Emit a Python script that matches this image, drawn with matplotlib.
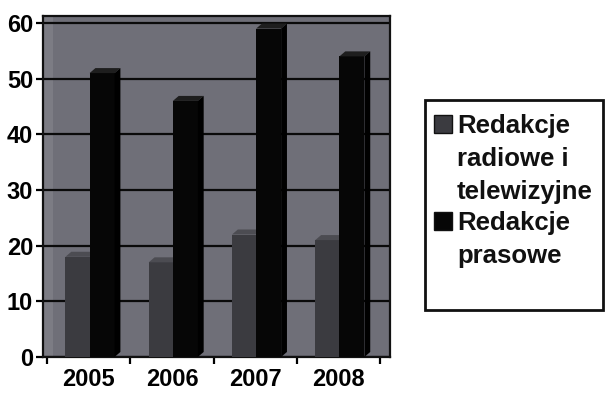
import matplotlib.pyplot as plt
from matplotlib.patches import Polygon, Rectangle

# dane
years = ["2005", "2006", "2007", "2008"]
radio_tv = [18, 17, 22, 21]
prasa = [51, 46, 59, 54]
label_radio = ["Redakcje", "radiowe i", "telewizyjne"]
label_prasa = ["Redakcje", "prasowe"]

plt.rcParams["font.family"] = ["Liberation Sans", "DejaVu Sans"]
plt.rcParams["font.weight"] = "bold"

W, H = 605, 394
fig = plt.figure(figsize=(W / 100, H / 100), dpi=100)
ax = fig.add_axes([0.071, 0.094, 0.574, 0.866])

ax.set_facecolor("#6f6f78")
ax.set_xlim(-0.55, 3.62)
ax.set_ylim(0, 61.3)

width = 0.3
dx, dy = 0.07, 0.9   # "glebia" 3D
x = list(range(len(years)))


def bars_3d(xs, vals, front, top, side, z):
    b = ax.bar(xs, vals, width, color=front, edgecolor="none", zorder=z)
    for rect in b:
        x0 = rect.get_x()
        x1 = x0 + rect.get_width()
        h = rect.get_height()
        ax.add_patch(Polygon([(x0, h), (x1, h), (x1 + dx, h + dy), (x0 + dx, h + dy)],
                             closed=True, fc=top, ec="none", zorder=z))
        ax.add_patch(Polygon([(x1, 0), (x1 + dx, dy), (x1 + dx, h + dy), (x1, h)],
                             closed=True, fc=side, ec="none", zorder=z))
    return b


# lewa sciana (jasniejszy pas)
ax.axvspan(-0.55, -0.43, color="#7c7c84", zorder=0.5, lw=0)

bars_3d([i - 0.13 for i in x], radio_tv, "#3b3b40", "#4c4c52", "#28282c", 3)
bars_3d([i + 0.16 for i in x], prasa, "#060606", "#1e1e1e", "#000000", 4)

# siatka
ax.set_yticks(range(0, 61, 10))
ax.grid(axis="y", color="#0a0a0a", linewidth=1.6, zorder=1)
ax.set_axisbelow(True)

for s in ax.spines.values():
    s.set_color("#111111")
    s.set_linewidth(1.6)

ax.set_xticks([i - 0.5 for i in range(len(years) + 1)])
ax.set_xticklabels([])
ax.set_xticks(x, minor=True)
ax.set_xticklabels(years, minor=True, fontsize=17, fontweight="bold")
ax.tick_params(axis="x", which="major", length=5, width=1.6, direction="out")
ax.tick_params(axis="x", which="minor", length=0, pad=8)
ax.tick_params(axis="y", length=5, width=1.6, labelsize=17, pad=2)
for t in ax.get_yticklabels():
    t.set_fontweight("bold")

# legenda (wspolrzedne w pikselach -> ulamki figury)
fig.patches.append(Rectangle((425 / W, 1 - 310 / H), 178 / W, 210 / H,
                             transform=fig.transFigure, fc="white", ec="#111111",
                             lw=2.0, figure=fig))


def legend_entry(lines, base0, color):
    fig.patches.append(Rectangle((434 / W, 1 - base0 / H), 18 / W, 18 / H,
                                 transform=fig.transFigure, fc=color, ec="#111111",
                                 lw=1.0, figure=fig))
    for k, line in enumerate(lines):
        fig.text(457 / W, 1 - (base0 + 33 * k) / H, line, fontsize=18.5,
                 fontweight="bold", va="baseline", ha="left", color="#111111")


legend_entry(label_radio, 133, "#3b3b40")
legend_entry(label_prasa, 230, "#060606")

fig.savefig("out.png", dpi=100, facecolor="white")
